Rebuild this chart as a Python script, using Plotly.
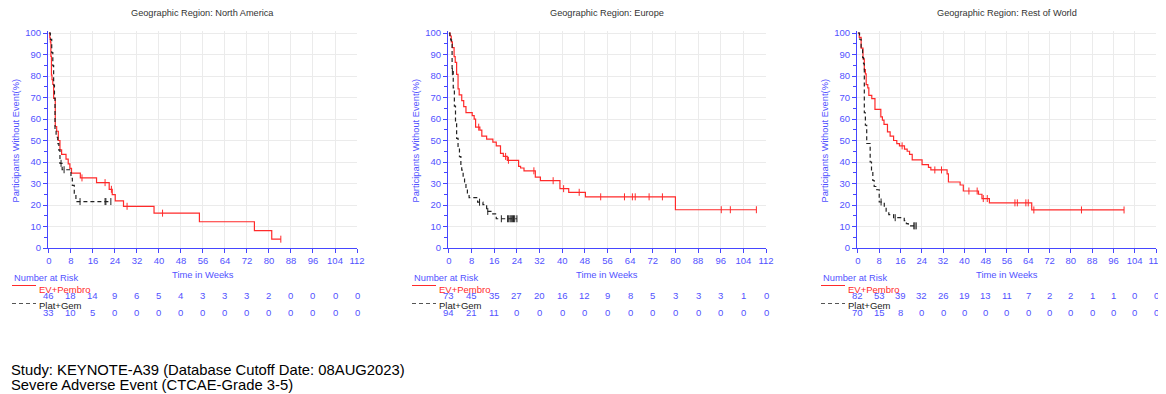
import plotly.graph_objects as go

# ---------------- data ----------------
panel_titles = ["Geographic Region: North America", "Geographic Region: Europe",
                "Geographic Region: Rest of World"]
arm_names = ["EV+Pembro", "Plat+Gem"]
x_ticks = [0, 8, 16, 24, 32, 40, 48, 56, 64, 72, 80, 88, 96, 104, 112]
y_ticks = [0, 10, 20, 30, 40, 50, 60, 70, 80, 90, 100]

# North America
na_ev_t = [0, 0.3, 0.5, 0.7, 0.9, 1.1, 1.4, 1.7, 2.3, 2.8, 3.4, 4.0, 4.6, 6.2, 7.0, 7.6, 8.2,
           11.4, 17.3, 21.9, 23.0, 24.1, 27.1, 38.2, 54.7, 74.7, 81.0]
na_ev_s = [100, 97.8, 95.7, 89.1, 80.4, 78.3, 76.1, 69.6, 56.5, 54.3, 50.0, 45.7, 43.5, 41.3, 39.1, 37.0, 34.8,
           32.6, 30.4, 27.3, 24.8, 21.9, 19.4, 16.2, 12.2, 8.1, 4.1]
na_ev_c = [12.0, 20.4, 22.7, 28.4, 41.3, 84.3]
na_pg_t = [0, 0.5, 1.0, 1.4, 1.7, 2.0, 2.2, 2.6, 3.2, 3.6, 4.0, 4.8, 8.0, 8.5, 9.2, 9.8]
na_pg_s = [100, 97.0, 90.9, 84.8, 75.8, 69.7, 54.5, 51.5, 48.5, 45.5, 39.4, 36.4, 32.4, 29.1, 25.0, 21.6]
na_pg_c = [4.4, 5.5, 11.3, 20.4, 20.7, 22.5]
na_risk_ev = [46, 18, 14, 9, 6, 5, 4, 3, 3, 3, 2, 0, 0, 0, 0]
na_risk_pg = [33, 10, 5, 0, 0, 0, 0, 0, 0, 0, 0, 0, 0, 0, 0]

# Europe
eu_ev_t = [0, 0.4, 0.8, 1.2, 1.8, 2.2, 2.7, 3.2, 3.6, 4.5, 5.2, 6.0, 8.2, 8.9, 9.4, 10.9, 11.6,
           13.3, 15.5, 16.7, 18.2, 19.2, 20.6, 24.6, 25.3, 26.5, 30.5, 32.3, 39.2, 42.3, 48.2, 80.0]
eu_ev_s = [100, 98.6, 95.9, 93.2, 89.0, 86.3, 80.8, 74.0, 71.2, 68.5, 65.8, 63.0, 61.6, 59.9, 56.2, 54.8, 52.0,
           50.6, 49.2, 47.5, 44.0, 42.6, 40.8, 38.0, 37.2, 35.9, 33.0, 31.3, 27.6, 25.9, 23.8, 17.8]
eu_ev_c = [10.5, 20.0, 21.0, 30.0, 36.8, 40.5, 46.0, 53.6, 62.0, 64.8, 65.8, 70.7, 75.4, 96.2, 99.4, 108.6]
eu_pg_t = [0, 0.3, 0.6, 0.9, 1.1, 1.5, 1.9, 2.3, 2.7, 3.2, 3.7, 4.2, 4.5, 5.0, 5.5, 6.0, 6.5, 7.1,
           10.1, 12.0, 13.3, 15.2, 16.7]
eu_pg_s = [100, 98.9, 96.8, 94.7, 82.0, 74.5, 66.0, 58.5, 51.0, 46.8, 42.5, 38.3, 36.2, 33.0, 30.0, 27.2, 25.0, 23.4,
           21.3, 20.2, 17.0, 15.9, 13.6]
eu_pg_c = [1.2, 10.8, 13.7, 18.5, 20.7, 21.1, 21.6, 22.0, 22.4, 22.8, 23.2, 24.0]
eu_risk_ev = [73, 45, 35, 27, 20, 16, 12, 9, 8, 5, 3, 3, 3, 1, 0]
eu_risk_pg = [94, 21, 11, 0, 0, 0, 0, 0, 0, 0, 0, 0, 0, 0, 0]

# Rest of World
rw_ev_t = [0, 0.5, 1.2, 1.9, 2.4, 2.8, 3.1, 3.7, 4.1, 5.2, 6.4, 8.6, 9.2, 9.8, 11.1, 12.1, 13.4, 14.6,
           15.6, 17.5, 18.5, 19.4, 20.4, 24.1, 26.5, 27.4, 33.5, 34.0, 38.4, 39.6, 45.3, 46.6, 49.4, 65.3]
rw_ev_s = [100, 98.0, 93.0, 88.0, 83.0, 81.0, 76.0, 74.5, 71.0, 69.5, 64.5, 61.0, 59.5, 57.5, 54.0, 52.0, 50.0, 48.5,
           47.5, 46.0, 45.0, 43.5, 41.0, 38.8, 37.5, 36.3, 34.5, 30.7, 29.3, 26.5, 25.0, 23.0, 21.0, 17.7]
rw_ev_c = [16.6, 28.9, 31.4, 41.7, 44.8, 47.1, 48.6, 59.0, 59.9, 63.1, 64.0, 66.1, 84.0, 100.0]
rw_pg_t = [0, 0.6, 1.2, 1.75, 2.1, 2.4, 2.8, 3.3, 4.6, 5.1, 5.6, 6.1, 7.1, 8.0, 9.9, 10.6, 11.6, 13.4,
           17.4, 18.2, 18.9]
rw_pg_s = [100, 97.1, 92.9, 88.6, 85.7, 62.9, 57.1, 48.6, 40.0, 35.7, 31.4, 28.6, 27.1, 21.4, 19.0, 17.1, 15.5, 14.1,
           12.7, 11.3, 10.3]
rw_pg_c = [8.7, 14.0, 21.0, 21.4, 21.9]
rw_risk_ev = [82, 53, 39, 32, 26, 19, 13, 11, 7, 2, 2, 1, 1, 0, 0]
rw_risk_pg = [70, 15, 8, 0, 0, 0, 0, 0, 0, 0, 0, 0, 0, 0, 0]

footnote_1 = "Study: KEYNOTE-A39 (Database Cutoff Date: 08AUG2023)"
footnote_2 = "Severe Adverse Event (CTCAE-Grade 3-5)"

# ---------------- styling / layout ----------------
PAGE_W, PAGE_H = 1166, 394
BODY_MARGIN = 8  # default page margin around the plot div
W, H = PAGE_W - BODY_MARGIN, PAGE_H - BODY_MARGIN
FONT = "Liberation Sans, Arial, sans-serif"
BLUE = "#5252ff"
AXBLUE = "#4646ff"
RED = "#ff2a2a"
BLACK = "#222222"
GRID = "#ebebeb"

panels = [
    dict(title=panel_titles[0], ev=(na_ev_t, na_ev_s, na_ev_c), pg=(na_pg_t, na_pg_s, na_pg_c),
         rev=na_risk_ev, rpg=na_risk_pg, px=(48, 357)),
    dict(title=panel_titles[1], ev=(eu_ev_t, eu_ev_s, eu_ev_c), pg=(eu_pg_t, eu_pg_s, eu_pg_c),
         rev=eu_risk_ev, rpg=eu_risk_pg, px=(448, 766)),
    dict(title=panel_titles[2], ev=(rw_ev_t, rw_ev_s, rw_ev_c), pg=(rw_pg_t, rw_pg_s, rw_pg_c),
         rev=rw_risk_ev, rpg=rw_risk_pg, px=(857, 1156)),
]


def py(p):
    return 1 - (p - BODY_MARGIN) / H


def px_(p):
    return (p - BODY_MARGIN) / W


Y0_PX, Y100_PX = 248, 33
YMAX = 101
ytop_px = Y0_PX - (Y0_PX - Y100_PX) * YMAX / 100.0
ydom = [py(Y0_PX), py(ytop_px)]


def step_at(ts, ss, c):
    v = ss[0]
    for t, s in zip(ts, ss):
        if t <= c:
            v = s
    return v


def ann(text, x, y, size, color, xref="paper", xanchor="center", angle=0):
    return dict(text=text, x=x, y=y, xref=xref, yref="paper", xanchor=xanchor, yanchor="middle",
                textangle=angle, showarrow=False, font=dict(family=FONT, size=size, color=color))


fig = go.Figure()
annotations = []
shapes = []

for i, p in enumerate(panels):
    k = "" if i == 0 else str(i + 1)
    xa, ya = "x" + k, "y" + k
    for arm, color, dash, name in [("ev", RED, "solid", arm_names[0]), ("pg", BLACK, "4px,3px", arm_names[1])]:
        ts, ss, cs = p[arm]
        tt, sv = list(ts), list(ss)
        if cs and max(cs) > tt[-1]:
            tt.append(max(cs))
            sv.append(sv[-1])
        fig.add_trace(go.Scatter(x=tt, y=sv, mode="lines", line=dict(color=color, width=1.2, dash=dash, shape="hv"),
                                 xaxis=xa, yaxis=ya, showlegend=False, name=name, hoverinfo="skip"))
        fig.add_trace(go.Scatter(x=cs, y=[step_at(ts, ss, c) for c in cs], mode="markers",
                                 marker=dict(symbol="line-ns", size=5, line=dict(color=color, width=1)),
                                 xaxis=xa, yaxis=ya, showlegend=False, hoverinfo="skip"))
    x0p, x1p = p["px"]
    common_tick = dict(tickfont=dict(family=FONT, size=9.5, color=BLUE), linecolor=AXBLUE, linewidth=1,
                       showline=True, ticks="outside", tickcolor=AXBLUE, ticklen=4, gridcolor=GRID,
                       gridwidth=1, zeroline=False, automargin=False)
    fig.update_layout(**{
        "xaxis" + k: dict(domain=[px_(x0p), px_(x1p)], range=[-0.35, 112], tickvals=x_ticks,
                          anchor=ya, showgrid=True, **common_tick),
        "yaxis" + k: dict(domain=ydom, range=[0, YMAX], tickvals=y_ticks, anchor=xa, showgrid=True,
                          minor=dict(dtick=5, tick0=0, ticks="outside", ticklen=3, tickcolor=AXBLUE, showgrid=False),
                          **common_tick),
    })
    cx = (x0p + x1p) / 2
    annotations.append(ann(p["title"], px_(cx), py(13), 9.2, "#333333"))
    annotations.append(ann("Time in Weeks", px_(cx), py(274), 9.4, BLUE))
    annotations.append(ann("Participants Without Event(%)", px_(x0p - 33), py(140.5), 9.3, BLUE, angle=-90))
    lx = x0p - 36
    annotations.append(ann("Number at Risk", px_(lx), py(278), 9.3, BLUE, xanchor="left"))
    annotations.append(ann(arm_names[0], px_(lx + 25), py(289), 9.5, RED, xanchor="left"))
    annotations.append(ann(arm_names[1], px_(lx + 25), py(305), 9.5, BLACK, xanchor="left"))
    shapes.append(dict(type="line", xref="paper", yref="paper", x0=px_(lx), x1=px_(lx + 24), y0=py(285.5),
                       y1=py(285.5), line=dict(color=RED, width=1)))
    shapes.append(dict(type="line", xref="paper", yref="paper", x0=px_(lx), x1=px_(lx + 24), y0=py(303.5),
                       y1=py(303.5), line=dict(color="#555555", width=1, dash="4px,3px")))
    for xv, n1, n2 in zip(x_ticks, p["rev"], p["rpg"]):
        annotations.append(ann(str(n1), xv, py(295.5), 9.5, BLUE, xref=xa))
        annotations.append(ann(str(n2), xv, py(312), 9.5, BLUE, xref=xa))

annotations.append(ann(footnote_1, px_(9), py(369.5), 14.8, "#000000", xanchor="left"))
annotations.append(ann(footnote_2, px_(9), py(384.5), 14.8, "#000000", xanchor="left"))

fig.update_layout(width=W, height=H, margin=dict(l=0, r=0, t=0, b=0, autoexpand=False), paper_bgcolor="white",
                  plot_bgcolor="white", annotations=annotations, shapes=shapes, showlegend=False)
fig.write_html("out.html")
